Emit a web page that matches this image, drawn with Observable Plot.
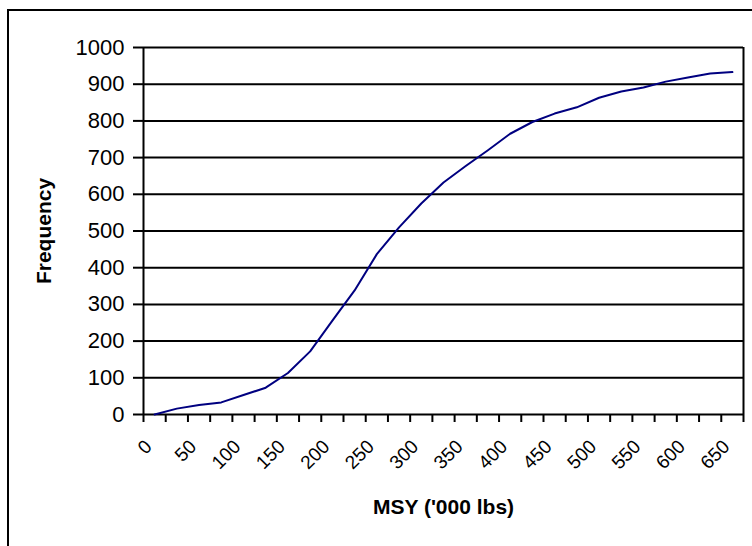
<!DOCTYPE html>
<html><head><meta charset="utf-8">
<script src="https://cdn.jsdelivr.net/npm/d3@7"></script>
<script src="https://cdn.jsdelivr.net/npm/@observablehq/plot@0.6"></script>
<style>
body{margin:0;background:#fff;}
#wrap{position:relative;width:752px;height:546px;overflow:hidden;background:#fff;}
#frame{position:absolute;left:7px;top:9px;width:800px;height:600px;border:2px solid #000;}
#chart{position:absolute;left:0;top:0;}
</style></head><body>
<div id="wrap"><div id="frame"></div><div id="chart"></div></div>
<script>
const msy = [0,25,50,75,100,125,150,175,200,225,250,275,300,325,350,375,400,425,450,475,500,525,550,575,600,625,650];
const frequency = [0,16,26,33,53,73,113,172,256,338,437,510,575,632,677,720,765,797,820,837,863,880,891,907,918,929,933];
const yTicks = [0,100,200,300,400,500,600,700,800,900,1000];
const xLabels = [0,50,100,150,200,250,300,350,400,450,500,550,600,650];
const step = 25;

const xDomain = [msy[0] - step / 2, msy[msy.length - 1] + step / 2];
const boundaries = msy.map(v => v - step / 2).concat([xDomain[1]]);
const data = msy.map((m, i) => ({msy: m, freq: frequency[i]}));

const chart = Plot.plot({
  width: 752, height: 546,
  marginLeft: 143, marginRight: 9, marginTop: 47, marginBottom: 132,
  style: {fontFamily: "'Liberation Sans', Arial, sans-serif", background: "transparent", color: "#000"},
  x: {domain: xDomain},
  y: {domain: [0, 1000]},
  marks: [
    Plot.gridY(yTicks, {stroke: "#000", strokeOpacity: 1, strokeWidth: 2}),
    Plot.ruleX(xDomain, {stroke: "#000", strokeWidth: 2}),
    Plot.axisY(yTicks, {tickSize: 10, tickPadding: 9, fontSize: 22, strokeWidth: 2, label: null, tickFormat: d => String(d)}),
    Plot.axisX(boundaries, {tickSize: 8, tickFormat: () => "", strokeWidth: 2, label: null}),
    Plot.axisX(xLabels, {tickSize: 0, tickRotate: -45, tickPadding: 29, dx: -6, fontSize: 19, label: null, tickFormat: d => String(d)}),
    Plot.line(data, {x: "msy", y: "freq", stroke: "#000080", strokeWidth: 2}),
    Plot.text(["Frequency"], {frameAnchor: "left", textAnchor: "middle", dx: -99, rotate: -90, fontWeight: "bold", fontSize: 21}),
    Plot.text(["MSY ('000 lbs)"], {frameAnchor: "bottom", dy: 99, fontWeight: "bold", fontSize: 21})
  ]
});
document.getElementById("chart").appendChild(chart);
</script>
</body></html>
